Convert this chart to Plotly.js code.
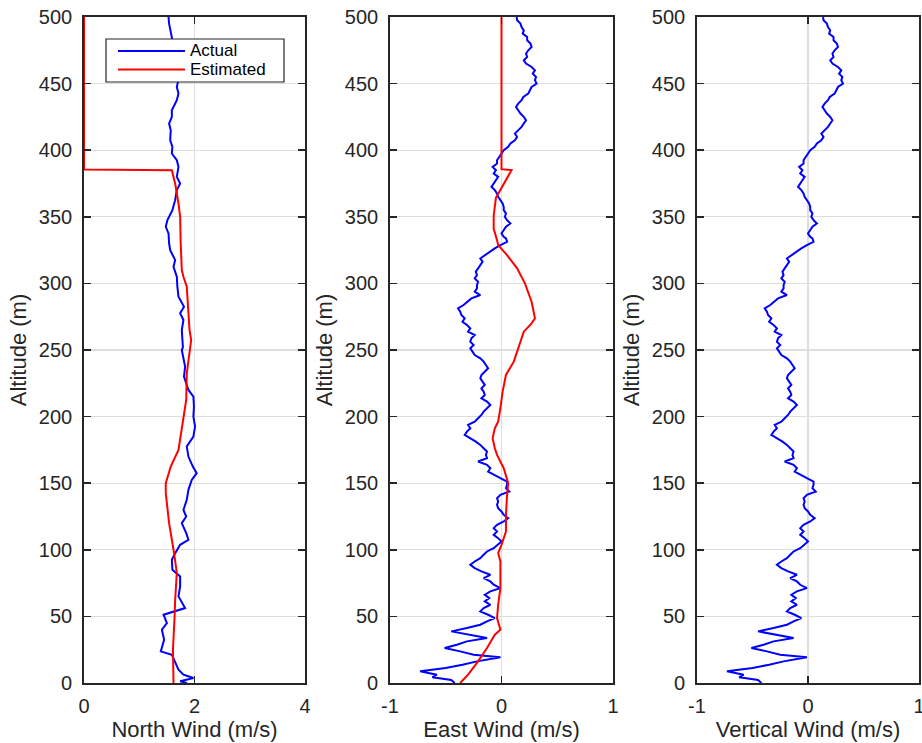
<!DOCTYPE html>
<html>
<head>
<meta charset="utf-8">
<script src="https://cdn.plot.ly/plotly-3.0.1.min.js"></script>
<style>html,body{margin:0;padding:0;background:#fff;}#chart{width:922px;height:743px;}</style>
</head>
<body>
<div id="chart"></div>
<script>
// ---- data ----
var northActualAlt = [0,1.25,3.75,6.25,10,15,21.25,23.75,32.5,40,45,51.25,56.25,65,72.5,80,85,92.5,97.5,103.75,107.5,112.5,120,125,130,137.5,145,152.5,157.5,162.5,170,177.5,185,192.5,200,207.5,215,220,225,230,237.5,245,250,252,265,272.5,277.5,282.5,290,297.5,305,312.5,317.5,325,330,337.5,342.5,347.5,355,362.5,370,375,380,387.5,392.5,397.5,402.5,407.5,415,420,425,430,437.5,442.5,447.5,455,462,470,478,485,490,495,500];
var northActualVal = [1.86,1.74,1.98,1.80,1.71,1.65,1.59,1.39,1.45,1.41,1.50,1.44,1.83,1.71,1.74,1.74,1.60,1.59,1.65,1.74,1.89,1.85,1.77,1.85,1.80,1.86,1.89,1.95,2.04,1.97,1.89,1.86,1.98,2.01,1.98,1.99,1.98,1.89,1.85,1.81,1.83,1.80,1.77,1.79,1.77,1.80,1.74,1.81,1.71,1.69,1.68,1.62,1.65,1.56,1.54,1.53,1.48,1.51,1.60,1.65,1.68,1.74,1.68,1.71,1.68,1.59,1.60,1.56,1.57,1.54,1.59,1.59,1.68,1.71,1.68,1.72,1.70,1.66,1.62,1.59,1.57,1.54,1.53];

var northEstAlt = [0,25,50,62.5,82.5,97.5,120,142.5,150,162.5,175,195,212.5,232.5,250,257.5,265,280,297.5,305,310,330,350,360,375,385,385.5,500];
var northEstVal = [1.62,1.61,1.64,1.65,1.68,1.63,1.54,1.48,1.48,1.57,1.71,1.79,1.85,1.86,1.92,1.94,1.91,1.89,1.86,1.80,1.77,1.75,1.74,1.71,1.65,1.59,0,0];

var eastActualAlt = [0,2.25,4.25,6.25,8.75,11.25,13.75,16.25,19.25,21.25,23.75,26.25,28.75,31.25,33.75,36.25,38.75,41.25,43.75,46.25,48.75,51.25,53.75,56.25,58.75,61.25,63.75,66.25,68.75,71.25,73.75,76.25,78.75,81.25,83.75,86.25,88.75,91.25,93.75,96.25,98.75,101.25,103.75,106.25,108.75,111.25,113.75,116.25,118.75,121.25,123.75,126.25,128.75,131.25,133.75,136.25,138.75,141.25,143.75,146.25,148.75,151.25,153.75,156.25,158.75,161.25,163.75,166.25,168.75,171.25,173.75,176.25,178.75,181.25,183.75,186.25,188.75,191.25,193.75,196.25,198.75,201.25,203.75,206.25,208.75,211.25,213.75,216.25,218.75,221.25,223.75,226.25,228.75,231.25,233.75,236.25,238.75,241.25,243.75,246.25,248.75,251.25,253.75,256.25,258.75,261.25,263.75,266.25,268.75,271.25,273.75,276.25,278.75,281.25,283.75,286.25,288.75,291.25,293.75,296.25,298.75,301.25,303.75,306.25,308.75,311.25,313.75,316.25,318.75,321.25,323.75,326.25,328.75,331.25,333.75,335,337.5,340,342.5,345,347.5,350,352.5,355,357.5,360,362.5,365,367.5,370,372.5,375,377.5,380,382.5,385,387.5,390,392.5,395,397.5,400,402.5,405,407.5,410,412.5,415,417.5,420,422.5,425,427.5,430,432.5,435,437.5,440,442.5,445,447.5,450,452.5,455,457.5,460,462.5,465,467.5,470,472.5,475,477.5,480,482.5,485,487.5,490,492.5,495,497.5,500];
var eastActualVal = [-0.42,-0.45,-0.62,-0.58,-0.73,-0.50,-0.35,-0.22,-0.01,-0.25,-0.37,-0.51,-0.40,-0.31,-0.13,-0.31,-0.45,-0.31,-0.19,-0.13,-0.06,-0.12,-0.19,-0.16,-0.10,-0.15,-0.11,-0.15,-0.10,-0.01,-0.07,-0.10,-0.16,-0.10,-0.18,-0.24,-0.28,-0.24,-0.19,-0.16,-0.13,-0.07,-0.03,0.00,-0.03,-0.07,-0.04,-0.07,-0.04,0.02,0.06,0.02,0.00,-0.03,-0.04,-0.03,-0.04,-0.01,0.07,0.04,0.05,0.05,-0.01,-0.07,-0.12,-0.10,-0.13,-0.21,-0.13,-0.14,-0.13,-0.16,-0.19,-0.23,-0.28,-0.33,-0.31,-0.28,-0.30,-0.24,-0.21,-0.18,-0.16,-0.13,-0.10,-0.13,-0.18,-0.15,-0.16,-0.18,-0.15,-0.17,-0.19,-0.18,-0.15,-0.12,-0.14,-0.16,-0.19,-0.24,-0.26,-0.28,-0.25,-0.28,-0.27,-0.24,-0.30,-0.28,-0.31,-0.35,-0.33,-0.36,-0.37,-0.39,-0.34,-0.30,-0.27,-0.19,-0.24,-0.22,-0.22,-0.21,-0.24,-0.22,-0.23,-0.21,-0.19,-0.17,-0.19,-0.15,-0.10,-0.06,-0.01,0.05,0.04,0.02,0.00,0.02,0.04,0.08,0.05,0.03,0.04,0.02,0.02,0.01,-0.01,-0.03,-0.04,-0.06,-0.09,-0.07,-0.05,-0.03,-0.07,-0.05,-0.08,-0.04,-0.04,-0.02,0.00,0.02,0.06,0.08,0.12,0.14,0.12,0.15,0.18,0.20,0.22,0.20,0.17,0.15,0.13,0.15,0.18,0.196,0.24,0.255,0.27,0.315,0.30,0.31,0.28,0.30,0.27,0.22,0.20,0.23,0.22,0.24,0.27,0.26,0.23,0.23,0.19,0.20,0.18,0.17,0.14,0.136];

var eastEstAlt = [0,6.25,16.25,26.25,36.25,40,48.75,58.75,71.25,83.75,91.25,97.5,103.75,113.75,126.25,141.25,150,161.25,171.25,176.25,183.75,191.25,196.25,206.25,218.75,231.25,241.25,251.25,263.75,270,273.75,286.25,300,311.25,321.25,328.75,332.5,341,351,364.25,385,385.75,500];
var eastEstVal = [-0.37,-0.30,-0.21,-0.13,-0.06,-0.01,-0.04,-0.03,-0.01,-0.01,-0.01,-0.03,0.00,0.04,0.04,0.05,0.06,0.02,-0.04,-0.06,-0.08,-0.06,-0.03,-0.01,0.01,0.04,0.11,0.15,0.20,0.27,0.30,0.27,0.21,0.14,0.05,-0.03,-0.04,-0.07,-0.07,-0.05,0.09,0.00,0.00];

// the vertical-wind profile in the reference is drawn with the same values as the east profile
var vertActualAlt = eastActualAlt;
var vertActualVal = eastActualVal;

var altTicks = [0,50,100,150,200,250,300,350,400,450,500];
var altTickText = ['0','50','100','150','200','250','300','350','400','450','500'];
var northTicks = [0,2,4];
var northTickText = ['0','2','4'];
var windTicks = [-1,0,1];
var windTickText = ['-1','0','1'];

var seriesNames = ['Actual','Estimated'];
var xTitles = ['North Wind (m/s)','East Wind (m/s)','Vertical Wind (m/s)'];
var yTitle = 'Altitude (m)';

// ---- styles ----
var BLUE = '#0000ff', RED = '#ff0000', AX = '#262626', GRID = '#dedede';
var FONT = 'Liberation Sans, Arial, Helvetica, sans-serif';

var traces = [
  {x: northActualVal, y: northActualAlt, xaxis:'x', yaxis:'y', name: seriesNames[0], mode:'lines', line:{color:BLUE, width:2}},
  {x: northEstVal, y: northEstAlt, xaxis:'x', yaxis:'y', name: seriesNames[1], mode:'lines', line:{color:RED, width:2}},
  {x: eastActualVal, y: eastActualAlt, xaxis:'x2', yaxis:'y2', name: seriesNames[0], mode:'lines', line:{color:BLUE, width:2}},
  {x: eastEstVal, y: eastEstAlt, xaxis:'x2', yaxis:'y2', name: seriesNames[1], mode:'lines', line:{color:RED, width:2}},
  {x: vertActualVal, y: vertActualAlt, xaxis:'x3', yaxis:'y3', name: seriesNames[0], mode:'lines', line:{color:BLUE, width:2}}
];

var ML = 84, MR = 3, MT = 17, MB = 60, W = 922, H = 743;
var PW = W - ML - MR, PH = H - MT - MB;
function px(x){ return (x - ML) / PW; }
function py(y){ return (H - MB - y) / PH; }

function xAxis(dom, rng, tv, tt, title, anchor){
  return {domain: dom, range: rng, tickvals: tv, ticktext: tt, anchor: anchor,
    showline: true, mirror: 'allticks', linecolor: AX, linewidth: 1.8,
    ticks: 'inside', ticklen: 7, tickwidth: 1.5, tickcolor: AX,
    showgrid: true, gridcolor: GRID, gridwidth: 1.2, zeroline: false,
    tickfont: {family: FONT, size: 20, color: AX}, ticklabelstandoff: 4,
    ticklabeloverflow: 'allow',
    title: {text: title, font: {family: FONT, size: 22, color: AX}, standoff: 6},
    automargin: false, fixedrange: true};
}
function yAxis(anchor){
  return {domain: [0,1], range: [0,500], tickvals: altTicks, ticktext: altTickText, anchor: anchor,
    showline: true, mirror: 'allticks', linecolor: AX, linewidth: 1.8,
    ticks: 'inside', ticklen: 7, tickwidth: 1.5, tickcolor: AX,
    showgrid: true, gridcolor: GRID, gridwidth: 1.2, zeroline: false,
    tickfont: {family: FONT, size: 20, color: AX}, ticklabelstandoff: 6,
    ticklabeloverflow: 'allow',
    title: {text: yTitle, font: {family: FONT, size: 22, color: AX}, standoff: 6},
    automargin: false, fixedrange: true};
}

var d1 = [px(84), px(305)], d2 = [px(390), px(613)], d3 = [px(697), px(919)];

// manual legend (matches reference's long sample lines)
var lgShapes = [
  {type:'rect', xref:'paper', yref:'paper', x0:px(106), x1:px(284), y0:py(82), y1:py(39), line:{color:AX, width:1.2}, fillcolor:'#ffffff', layer:'above'},
  {type:'line', xref:'paper', yref:'paper', x0:px(118), x1:px(185), y0:py(51), y1:py(51), line:{color:BLUE, width:2}, layer:'above'},
  {type:'line', xref:'paper', yref:'paper', x0:px(118), x1:px(185), y0:py(69.5), y1:py(69.5), line:{color:RED, width:2}, layer:'above'}
];
var lgAnn = [
  {xref:'paper', yref:'paper', x:px(189), y:py(51), text: seriesNames[0], showarrow:false, xanchor:'left', yanchor:'middle', borderpad:0, font:{family:FONT, size:17, color:'#000'}},
  {xref:'paper', yref:'paper', x:px(189), y:py(69.5), text: seriesNames[1], showarrow:false, xanchor:'left', yanchor:'middle', borderpad:0, font:{family:FONT, size:17, color:'#000'}}
];

var layout = {
  width: W, height: H,
  margin: {l: ML, r: MR, t: MT, b: MB, pad: 0},
  paper_bgcolor: '#ffffff', plot_bgcolor: '#ffffff',
  showlegend: false,
  xaxis: xAxis(d1, [0,4], northTicks, northTickText, xTitles[0], 'y'),
  yaxis: yAxis('x'),
  xaxis2: xAxis(d2, [-1,1], windTicks, windTickText, xTitles[1], 'y2'),
  yaxis2: yAxis('x2'),
  xaxis3: xAxis(d3, [-1,1], windTicks, windTickText, xTitles[2], 'y3'),
  yaxis3: yAxis('x3'),
  shapes: lgShapes,
  annotations: lgAnn
};

Plotly.newPlot('chart', traces, layout, {displayModeBar: false, staticPlot: true});
</script>
</body>
</html>
